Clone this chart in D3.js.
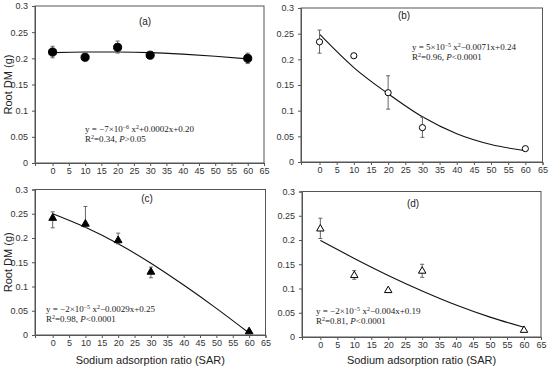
<!DOCTYPE html>
<html>
<head>
<meta charset="utf-8">
<script src="https://cdn.jsdelivr.net/npm/d3@7"></script>
<style>
  body { margin: 0; background: #fff; }
  svg { display: block; }
</style>
</head>
<body>
<div id="viewport"></div>
<script>
// SAR levels and axis ticks
var sar = [0, 10, 20, 30, 60];
var xTicks = [0, 5, 10, 15, 20, 25, 30, 35, 40, 45, 50, 55, 60, 65];
var yTicks = [0, 0.05, 0.1, 0.15, 0.2, 0.25, 0.3];
var yTickLabels = ["0", "0.05", "0.1", "0.15", "0.2", "0.25", "0.3"];

// means and error bar ends
var meanA = [0.212, 0.202, 0.221, 0.206, 0.200];
var loA   = [0.201, 0.200, 0.210, 0.203, 0.190];
var hiA   = [0.223, 0.204, 0.233, 0.210, 0.210];

var meanB = [0.234, 0.207, 0.135, 0.067, 0.026];
var loB   = [0.212, 0.205, 0.103, 0.048, 0.024];
var hiB   = [0.257, 0.209, 0.168, 0.087, 0.028];

var meanC = [0.241, 0.229, 0.195, 0.130, 0.007];
var loC   = [0.221, 0.222, 0.188, 0.118, 0.005];
var hiC   = [0.254, 0.265, 0.210, 0.140, 0.009];

var meanD = [0.223, 0.127, 0.096, 0.136, 0.014];
var loD   = [0.203, 0.119, 0.094, 0.123, 0.012];
var hiD   = [0.245, 0.137, 0.098, 0.150, 0.016];

// fitted curves, read at these SAR values
var fitX = [0, 10, 20, 30, 40, 50, 60];
var fitA = [0.211, 0.212, 0.212, 0.211, 0.208, 0.204, 0.199];
var fitB = [0.249, 0.184, 0.133, 0.088, 0.055, 0.034, 0.022];
var fitC = [0.250, 0.222, 0.188, 0.148, 0.103, 0.055, 0.004];
var fitD = [0.199, 0.162, 0.127, 0.095, 0.066, 0.041, 0.020];

// equation labels: [text, style]
var eqA = [["y = −7×10"], ["−6", "sup"], [" x"], ["2", "sup"], ["+0.0002x+0.20"]];
var rA  = [["R"], ["2", "sup"], ["=0.34, "], ["P", "i"], [">0.05"]];
var eqB = [["y = 5×10"], ["−5", "sup"], [" x"], ["2", "sup"], ["−0.0071x+0.24"]];
var rB  = [["R"], ["2", "sup"], ["=0.96, "], ["P", "i"], ["<0.0001"]];
var eqC = [["y = −2×10"], ["−5", "sup"], [" x"], ["2", "sup"], ["−0.0029x+0.25"]];
var rC  = [["R"], ["2", "sup"], ["=0.98, "], ["P", "i"], ["<0.0001"]];
var eqD = [["y = −2×10"], ["−5", "sup"], [" x"], ["2", "sup"], ["−0.004x+0.19"]];
var rD  = [["R"], ["2", "sup"], ["=0.81, "], ["P", "i"], ["<0.0001"]];

var width = 550, height = 368;

var svg = d3.select("#viewport").append("svg")
    .attr("width", width)
    .attr("height", height);

var panels = [
    {label: "(a)", box: [35, 6, 264, 163], mean: meanA, lo: loA, hi: hiA, fit: fitA,
     marker: "circle", fill: "#000", eq: eqA, r2: rA, eqPos: [85, 132], labPos: [145, 25], yTitle: true},
    {label: "(b)", box: [301, 8, 542.5, 162], mean: meanB, lo: loB, hi: hiB, fit: fitB,
     marker: "circle", fill: "#fff", eq: eqB, r2: rB, eqPos: [412, 50], labPos: [404, 19]},
    {label: "(c)", box: [35, 189.5, 265.5, 335], mean: meanC, lo: loC, hi: hiC, fit: fitC,
     marker: "triangle", fill: "#000", eq: eqC, r2: rC, eqPos: [46, 312], labPos: [147, 202], yTitle: true, xTitle: true},
    {label: "(d)", box: [302, 191.5, 541, 337], mean: meanD, lo: loD, hi: hiD, fit: fitD,
     marker: "triangle", fill: "#fff", eq: eqD, r2: rD, eqPos: [316, 314], labPos: [413, 207], xTitle: true}
];

panels.forEach(drawPanel);

function drawPanel(p) {
    var x0 = p.box[0], y0 = p.box[1], x1 = p.box[2], y1 = p.box[3];

    var x = d3.scaleLinear().domain([-5.4, 65]).range([x0, x1]);
    var y = d3.scaleLinear().domain([0, 0.3]).range([y1, y0]);

    var g = svg.append("g");

    // frame
    g.append("rect")
        .attr("x", x0).attr("y", y0)
        .attr("width", x1 - x0).attr("height", y1 - y0)
        .attr("fill", "none")
        .attr("stroke", "#555")
        .attr("stroke-width", 1);

    // axes
    var xAxis = g.append("g")
        .attr("class", "axis")
        .attr("transform", "translate(0," + y1 + ")")
        .call(d3.axisBottom(x).tickValues(xTicks).tickSize(3).tickPadding(2));
    var yAxis = g.append("g")
        .attr("class", "axis")
        .attr("transform", "translate(" + x0 + ",0)")
        .call(d3.axisLeft(y).tickValues(yTicks).tickSize(3).tickPadding(4)
            .tickFormat(function(d, i) { return yTickLabels[i]; }));

    [xAxis, yAxis].forEach(function(a) {
        a.select(".domain").attr("stroke", "#555");
        a.selectAll(".tick line").attr("stroke", "#555");
        a.selectAll("text")
            .attr("fill", "#333")
            .style("font-family", "Liberation Sans, Arial, sans-serif")
            .style("font-size", "9px");
    });

    // fitted curve
    var line = d3.line()
        .x(function(d, i) { return x(fitX[i]); })
        .y(function(d) { return y(d); })
        .curve(d3.curveMonotoneX);
    g.append("path")
        .datum(p.fit)
        .attr("d", line)
        .attr("fill", "none")
        .attr("stroke", "#111")
        .attr("stroke-width", 1.1);

    // error bars
    var eb = g.selectAll(".err")
        .data(sar)
        .enter().append("g")
        .attr("class", "err")
        .attr("stroke", "#666")
        .attr("stroke-width", 1);
    eb.append("line")
        .attr("x1", function(d) { return x(d); })
        .attr("x2", function(d) { return x(d); })
        .attr("y1", function(d, i) { return y(p.lo[i]); })
        .attr("y2", function(d, i) { return y(p.hi[i]); });
    eb.append("line")
        .attr("x1", function(d) { return x(d) - 2; })
        .attr("x2", function(d) { return x(d) + 2; })
        .attr("y1", function(d, i) { return y(p.hi[i]); })
        .attr("y2", function(d, i) { return y(p.hi[i]); });
    eb.append("line")
        .attr("x1", function(d) { return x(d) - 2; })
        .attr("x2", function(d) { return x(d) + 2; })
        .attr("y1", function(d, i) { return y(p.lo[i]); })
        .attr("y2", function(d, i) { return y(p.lo[i]); });

    // markers
    var sym = p.marker === "circle"
        ? d3.symbol().type(d3.symbolCircle).size(p.fill === "#000" ? 52 : 30)
        : d3.symbol().type(d3.symbolTriangle).size(p.fill === "#000" ? 26 : 24);
    g.selectAll(".pt")
        .data(p.mean)
        .enter().append("path")
        .attr("class", "pt")
        .attr("d", sym)
        .attr("transform", function(d, i) { return "translate(" + x(sar[i]) + "," + y(d) + ")"; })
        .attr("fill", p.fill)
        .attr("stroke", "#000")
        .attr("stroke-width", 1);

    // panel label
    g.append("text")
        .attr("x", p.labPos[0]).attr("y", p.labPos[1])
        .attr("text-anchor", "middle")
        .style("font-family", "Liberation Sans, Arial, sans-serif")
        .style("font-size", "10px")
        .attr("fill", "#222")
        .text(p.label);

    // equation and R2
    richText(g, p.eq, p.eqPos[0], p.eqPos[1]);
    richText(g, p.r2, p.eqPos[0], p.eqPos[1] + 10);

    if (p.yTitle) {
        g.append("text")
            .attr("transform", "translate(12," + ((y0 + y1) / 2) + ") rotate(-90)")
            .attr("text-anchor", "middle")
            .style("font-family", "Liberation Sans, Arial, sans-serif")
            .style("font-size", "11px")
            .attr("fill", "#222")
            .text("Root DM (g)");
    }
    if (p.xTitle) {
        g.append("text")
            .attr("x", (x0 + x1) / 2)
            .attr("y", 364)
            .attr("text-anchor", "middle")
            .style("font-family", "Liberation Sans, Arial, sans-serif")
            .style("font-size", "11px")
            .attr("fill", "#222")
            .text("Sodium adsorption ratio (SAR)");
    }
}

function richText(g, parts, tx, ty) {
    var t = g.append("text")
        .attr("x", tx).attr("y", ty)
        .style("font-family", "Liberation Serif, Times New Roman, serif")
        .style("font-size", "9px")
        .attr("fill", "#222");
    var shifted = false;
    parts.forEach(function(s) {
        var ts = t.append("tspan").text(s[0]);
        if (s[1] === "sup") {
            ts.attr("dy", -3).style("font-size", "6px");
            shifted = true;
        } else {
            if (shifted) { ts.attr("dy", 3); shifted = false; }
            if (s[1] === "i") ts.style("font-style", "italic");
        }
    });
}
</script>
</body>
</html>
